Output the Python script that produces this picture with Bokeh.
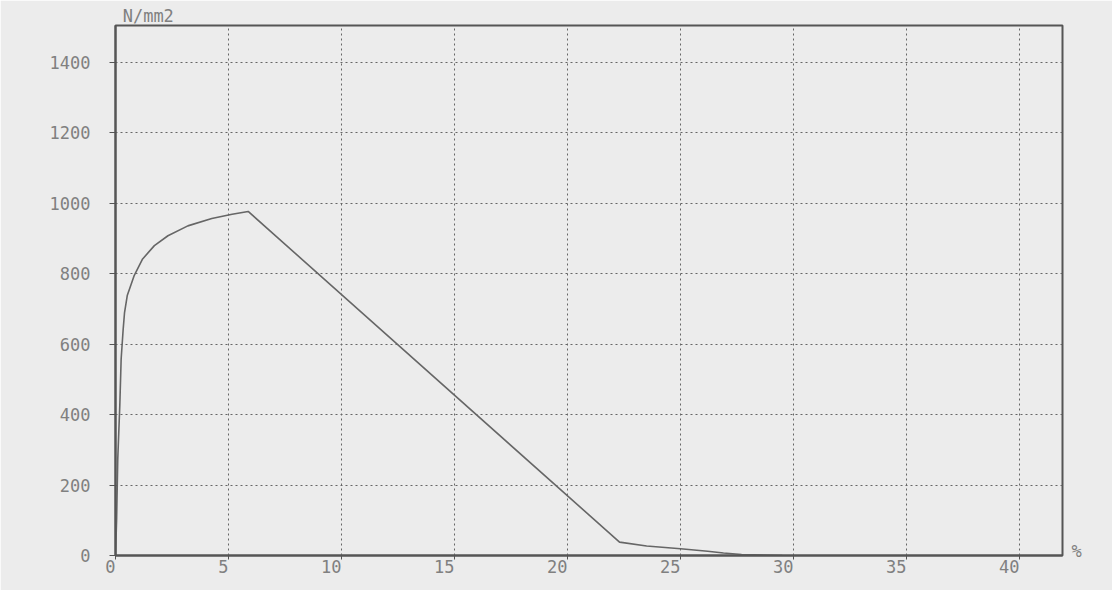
from bokeh.plotting import figure
from bokeh.models import Range1d, FixedTicker, LinearAxis
from bokeh.embed import file_html
from bokeh.resources import INLINE

# strain (%) and stress (N/mm2)
strain = [0.0, 0.05, 0.10, 0.19, 0.25, 0.34, 0.40, 0.52, 0.82, 1.20, 1.72, 2.32,
          3.20, 4.26, 5.16, 5.87, 22.3, 23.5, 25.0, 26.2, 26.9, 27.7, 29.5]
stress = [0, 104, 274, 425, 558, 643, 690, 738, 794, 842, 880, 908,
          936, 957, 969, 977, 38, 27, 19, 12, 7, 3, 0]

x_ticks = [0, 5, 10, 15, 20, 25, 30, 35, 40]
x_tick_labels = ["0", "5", "10", "15", "20", "25", "30", "35", "40"]
y_ticks = [0, 200, 400, 600, 800, 1000, 1200, 1400]
y_unit = "N/mm2"
x_unit = "%"

BG = "#ececec"
INK = "#555555"
TXT = "#808080"
FONT = "DejaVu Sans Mono"
NB = "\u00a0"

p = figure(width=1112, height=590, output_backend="svg", toolbar_location=None,
           x_range=Range1d(0, 41.9), y_range=Range1d(0, 1505),
           min_border_left=115, min_border_right=50, min_border_top=25,
           min_border_bottom=35)
p.background_fill_color = BG
p.border_fill_color = BG
p.outline_line_color = INK
p.outline_line_width = 2

p.xaxis.ticker = FixedTicker(ticks=x_ticks)
p.yaxis.ticker = FixedTicker(ticks=y_ticks)
p.xaxis.minor_tick_line_color = None
p.yaxis.minor_tick_line_color = None
for ax in (p.xaxis, p.yaxis):
    ax.axis_line_color = INK
    ax.axis_line_width = 2
    ax.major_tick_line_color = INK
    ax.major_tick_in = 0
    ax.major_label_text_font = FONT
    ax.major_label_text_font_size = "17px"
    ax.major_label_text_color = TXT
p.yaxis.major_tick_out = 6
p.yaxis.major_label_standoff = 19
p.xaxis.major_tick_out = 4
p.xaxis.major_label_standoff = -3
# right-align x tick labels to their ticks (as in the printout)
p.xaxis.major_label_overrides = {t: lab + NB * len(lab) for t, lab in zip(x_ticks, x_tick_labels)}

for g in (p.xgrid, p.ygrid):
    g.grid_line_color = "#666666"
    g.grid_line_dash = "2 3"
    g.grid_line_width = 1

p.line(strain, stress, line_color="#666666", line_width=1.6)

# unit labels via tick-less axes
top = LinearAxis(ticker=FixedTicker(ticks=[1.45]), major_label_overrides={1.45: y_unit},
                 axis_line_color=None, major_tick_line_color=None,
                 minor_tick_line_color=None, major_tick_out=0, major_tick_in=0,
                 major_label_standoff=0,
                 major_label_text_font=FONT, major_label_text_font_size="17px",
                 major_label_text_color=TXT)
p.add_layout(top, "above")
right = LinearAxis(ticker=FixedTicker(ticks=[14]), major_label_overrides={14: x_unit},
                   axis_line_color=None, major_tick_line_color=None,
                   minor_tick_line_color=None, major_tick_out=0, major_tick_in=0,
                   major_label_standoff=9,
                   major_label_text_font=FONT, major_label_text_font_size="17px",
                   major_label_text_color=TXT)
p.add_layout(right, "right")

open("out.html", "w").write(file_html(p, INLINE))
